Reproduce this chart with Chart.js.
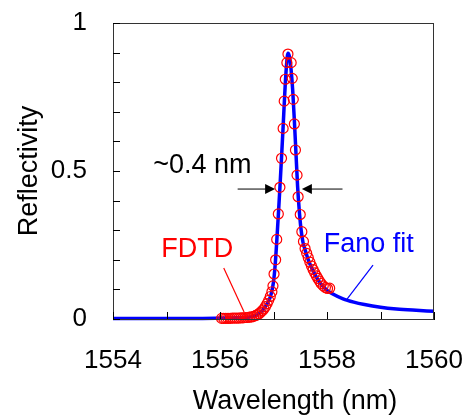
<!DOCTYPE html>
<html lang="en">
<head>
    <meta charset="UTF-8">
    <title>Reflectivity</title>
    <style>
        body {
            margin: 0;
            background-color: #fff;
        }
        #chart {
            display: block;
        }
    </style>
</head>
<body>
    <canvas id="chart" width="473" height="419"></canvas>

    <script src="https://cdn.jsdelivr.net/npm/chart.js@4"></script>
    <script>
        // Fano fit curve
        const fitWavelength = [1554.0, 1555.0, 1555.5, 1556.0, 1556.3, 1556.5, 1556.6, 1556.7, 1556.8, 1556.85,
            1556.9, 1556.95, 1557.0, 1557.03, 1557.06, 1557.09, 1557.12, 1557.15, 1557.18, 1557.21,
            1557.24, 1557.27, 1557.3, 1557.33, 1557.36, 1557.39, 1557.42, 1557.45, 1557.48, 1557.51,
            1557.55, 1557.6, 1557.65, 1557.7, 1557.8, 1557.9, 1558.0, 1558.1, 1558.3, 1558.5,
            1558.7, 1559.0, 1559.3, 1559.6, 1560.0];
        const fitReflectivity = [0.002, 0.002, 0.002, 0.003, 0.004, 0.006, 0.008, 0.014, 0.03, 0.042,
            0.058, 0.08, 0.125, 0.18, 0.26, 0.35, 0.445, 0.545, 0.65, 0.76,
            0.85, 0.898, 0.885, 0.84, 0.77, 0.67, 0.56, 0.45, 0.37, 0.31,
            0.26, 0.228, 0.2, 0.178, 0.142, 0.115, 0.097, 0.085, 0.068, 0.057,
            0.049, 0.04, 0.034, 0.03, 0.026];

        // FDTD points
        const fdtdWavelength = [1556.03, 1556.07, 1556.11, 1556.15, 1556.19, 1556.23, 1556.27, 1556.31, 1556.35, 1556.39,
            1556.43, 1556.47, 1556.51, 1556.55, 1556.59, 1556.63, 1556.67, 1556.70, 1556.73, 1556.76,
            1556.79, 1556.82, 1556.85, 1556.88, 1556.91, 1556.94, 1556.97, 1556.99,
            1557.01, 1557.04, 1557.06, 1557.09, 1557.12, 1557.15, 1557.18, 1557.20, 1557.22, 1557.25, 1557.27,
            1557.33, 1557.35, 1557.37, 1557.39, 1557.41, 1557.44, 1557.46, 1557.50, 1557.53, 1557.56,
            1557.59, 1557.62, 1557.65, 1557.68, 1557.71, 1557.74, 1557.77, 1557.80, 1557.83, 1557.86,
            1557.89, 1557.93, 1557.97, 1558.01, 1558.05];
        const fdtdReflectivity = [0.002, 0.002, 0.002, 0.002, 0.002, 0.003, 0.003, 0.003, 0.003, 0.004,
            0.004, 0.005, 0.005, 0.006, 0.007, 0.009, 0.012, 0.015, 0.018, 0.023,
            0.028, 0.034, 0.042, 0.052, 0.063, 0.076, 0.092, 0.112,
            0.152, 0.2, 0.269, 0.355, 0.445, 0.543, 0.644, 0.736, 0.81, 0.866, 0.895,
            0.866, 0.813, 0.742, 0.659, 0.571, 0.486, 0.413, 0.353, 0.295, 0.262,
            0.238, 0.222, 0.207, 0.192, 0.179, 0.167, 0.156, 0.146, 0.137, 0.128,
            0.12, 0.112, 0.106, 0.103, 0.104];

        const xLabels = [1554, 1556, 1558, 1560];
        const yLabels = [0, 0.5, 1];

        const FONT = '"Liberation Sans", Arial, sans-serif';

        // annotations in data units
        const fwhmY = 0.439;
        const fwhmLeft = [1556.33, 1557.03];
        const fwhmRight = [1558.29, 1557.53];

        function px(chart, x, y) {
            return [chart.scales.x.getPixelForValue(x), chart.scales.y.getPixelForValue(y)];
        }

        function arrow(ctx, x0, y0, x1, y1) {
            const dir = Math.sign(x1 - x0);
            ctx.beginPath();
            ctx.moveTo(x0, y0);
            ctx.lineTo(x1 - dir * 9, y1);
            ctx.stroke();
            ctx.beginPath();
            ctx.moveTo(x1, y1);
            ctx.lineTo(x1 - dir * 10, y1 - 5);
            ctx.lineTo(x1 - dir * 10, y1 + 5);
            ctx.closePath();
            ctx.fill();
        }

        const extras = {
            id: 'extras',
            afterDraw(chart) {
                const ctx = chart.ctx;
                const a = chart.chartArea;
                ctx.save();

                // frame
                ctx.strokeStyle = '#333';
                ctx.lineWidth = 1;
                ctx.strokeRect(a.left + 0.5, a.top + 0.5, a.right - a.left - 1, a.bottom - a.top);

                // inward ticks
                ctx.strokeStyle = '#000';
                chart.scales.x.ticks.forEach(t => {
                    const x = Math.round(chart.scales.x.getPixelForValue(t.value)) + 0.5;
                    ctx.beginPath();
                    ctx.moveTo(x, a.bottom);
                    ctx.lineTo(x, a.bottom - 7);
                    ctx.stroke();
                });
                chart.scales.y.ticks.forEach(t => {
                    const y = Math.round(chart.scales.y.getPixelForValue(t.value)) + 0.5;
                    ctx.beginPath();
                    ctx.moveTo(a.left, y);
                    ctx.lineTo(a.left + 7, y);
                    ctx.stroke();
                });

                // FWHM arrows
                ctx.fillStyle = '#000';
                let p0 = px(chart, fwhmLeft[0], fwhmY), p1 = px(chart, fwhmLeft[1], fwhmY);
                arrow(ctx, p0[0], p0[1], p1[0], p1[1]);
                p0 = px(chart, fwhmRight[0], fwhmY); p1 = px(chart, fwhmRight[1], fwhmY);
                arrow(ctx, p0[0], p0[1], p1[0], p1[1]);

                // leader lines
                ctx.lineWidth = 1.2;
                ctx.strokeStyle = '#ff0000';
                p0 = px(chart, 1556.07, 0.172); p1 = px(chart, 1556.45, 0.024);
                ctx.beginPath(); ctx.moveTo(p0[0], p0[1]); ctx.lineTo(p1[0], p1[1]); ctx.stroke();
                ctx.strokeStyle = '#0000ff';
                p0 = px(chart, 1558.86, 0.182); p1 = px(chart, 1558.36, 0.064);
                ctx.beginPath(); ctx.moveTo(p0[0], p0[1]); ctx.lineTo(p1[0], p1[1]); ctx.stroke();

                // labels
                ctx.font = '27px ' + FONT;
                ctx.textAlign = 'left';
                ctx.textBaseline = 'alphabetic';
                ctx.fillStyle = '#000';
                p0 = px(chart, 1554.75, 0.493);
                ctx.fillText('~0.4 nm', p0[0], p0[1]);
                ctx.fillStyle = '#ff0000';
                p0 = px(chart, 1554.90, 0.209);
                ctx.fillText('FDTD', p0[0], p0[1]);
                ctx.fillStyle = '#0000ff';
                p0 = px(chart, 1557.94, 0.226);
                ctx.fillText('Fano fit', p0[0], p0[1]);

                // x axis title
                ctx.fillStyle = '#000';
                ctx.textAlign = 'center';
                ctx.font = '27px ' + FONT;
                ctx.fillText('Wavelength (nm)', 295, 409);
                ctx.restore();
            }
        };

        new Chart(document.getElementById('chart'), {
            type: 'scatter',
            data: {
                datasets: [{
                    label: 'FDTD',
                    data: fdtdWavelength.map((x, i) => ({ x: x, y: fdtdReflectivity[i] })),
                    showLine: false,
                    pointStyle: 'circle',
                    pointRadius: 5,
                    pointBorderWidth: 1.2,
                    pointBorderColor: '#ff0000',
                    pointBackgroundColor: 'rgba(0,0,0,0)',
                    clip: false
                }, {
                    label: 'Fano fit',
                    data: fitWavelength.map((x, i) => ({ x: x, y: fitReflectivity[i] })),
                    showLine: true,
                    borderColor: '#0000ff',
                    borderWidth: 3.5,
                    pointRadius: 0,
                    cubicInterpolationMode: 'monotone',
                    clip: 2
                }]
            },
            options: {
                responsive: false,
                animation: false,
                layout: { padding: { top: 23, right: 39, left: 0, bottom: 0 } },
                plugins: {
                    legend: { display: false },
                    tooltip: { enabled: false }
                },
                scales: {
                    x: {
                        type: 'linear',
                        min: 1554,
                        max: 1560,
                        afterFit: s => { s.height = 100; s.paddingLeft = 0; s.paddingRight = 0; },
                        border: { color: '#000', width: 1 },
                        grid: { display: false, drawTicks: false },
                        ticks: {
                            stepSize: 1,
                            autoSkip: false,
                            maxRotation: 0,
                            padding: 26,
                            color: '#000',
                            font: { family: FONT, size: 26 },
                            callback: v => xLabels.includes(v) ? String(v) : ''
                        }
                    },
                    y: {
                        min: 0,
                        max: 1,
                        afterFit: s => { s.width = 113; s.paddingTop = 0; s.paddingBottom = 0; },
                        border: { color: '#000', width: 1 },
                        grid: { display: false, drawTicks: false },
                        ticks: {
                            stepSize: 0.1,
                            autoSkip: false,
                            padding: 26,
                            color: '#000',
                            font: { family: FONT, size: 26 },
                            callback: v => {
                                const m = yLabels.find(l => Math.abs(l - v) < 1e-6);
                                return m === undefined ? '' : String(m);
                            }
                        },
                        title: {
                            display: true,
                            text: 'Reflectivity',
                            color: '#000',
                            font: { family: FONT, size: 27 },
                            padding: { top: 13, bottom: 0 }
                        }
                    }
                }
            },
            plugins: [extras]
        });
    </script>
</body>
</html>
